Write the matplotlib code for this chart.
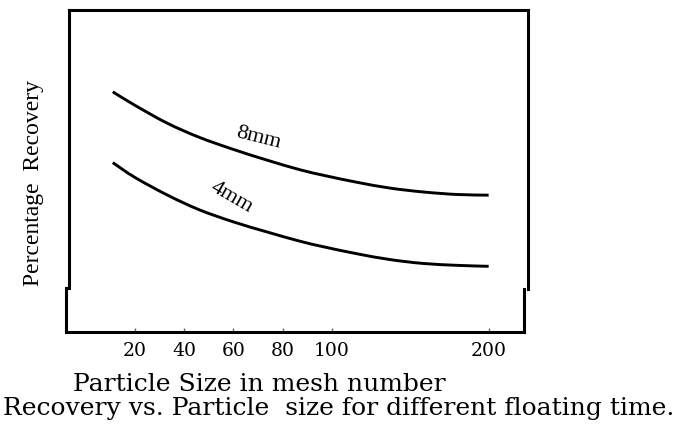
import numpy as np
import matplotlib
matplotlib.use("Agg")
import matplotlib.pyplot as plt
from matplotlib.lines import Line2D
from matplotlib.path import Path
from matplotlib.patches import PathPatch

# Mesh numbers at which each curve was read
mesh = [11, 20, 33, 46, 60, 74, 87, 97, 116, 137, 158, 180, 200]
# Percentage recovery (relative units, no scale printed on the axis)
rec_8mm = [74.6, 70.4, 64.9, 60.5, 56.7, 53.3, 50.4, 48.6, 46.5, 44.7, 43.5, 42.7, 42.5]
rec_4mm = [52.6, 48.0, 42.6, 38.0, 34.2, 31.0, 28.2, 26.4, 24.3, 22.5, 21.3, 20.7, 20.4]

tick_values = [20, 40, 60, 80, 100, 200]
tick_labels = ["20", "40", "60", "80", "100", "200"]

# Axis is linear up to 100 mesh, then compressed beyond it
RATIO = 0.637


def forward(m):
    m = np.asarray(m, dtype=float)
    return np.where(m <= 100, m, 100 + (m - 100) * RATIO)


def inverse(p):
    p = np.asarray(p, dtype=float)
    return np.where(p <= 100, p, 100 + (p - 100) / RATIO)


def smooth_path(xs, ys):
    """Catmull-Rom curve through the points, as cubic Bezier segments."""
    p = np.column_stack([xs, ys])
    n = len(p)
    verts = [p[0]]
    codes = [Path.MOVETO]
    for i in range(n - 1):
        p0 = p[i - 1] if i > 0 else p[i]
        p1, p2 = p[i], p[i + 1]
        p3 = p[i + 2] if i + 2 < n else p[i + 1]
        c1 = p1 + (p2 - p0) / 6.0
        c2 = p2 - (p3 - p1) / 6.0
        verts += [c1, c2, p2]
        codes += [Path.CURVE4] * 3
    return Path(np.array(verts), codes)


W, H = 675, 424
fig = plt.figure(figsize=(W / 100, H / 100), dpi=100)
L, R, T, B = 66, 525.5, 10, 332
ax = fig.add_axes([L / W, 1 - B / H, (R - L) / W, (B - T) / H])

ax.set_xscale("function", functions=(forward, inverse))
ax.set_xlim(-8, 223.5)
ax.set_ylim(0, 100)

# Curves drawn in scaled-position space (transData without the scale step)
pos_trans = ax.transLimits + ax.transAxes
for rec in (rec_8mm, rec_4mm):
    path = smooth_path(forward(mesh), rec)
    ax.add_patch(PathPatch(path, facecolor="none", edgecolor="black", lw=2.1,
                           capstyle="butt", transform=pos_trans))

ax.text(70, 60.2, "8mm", rotation=-14, ha="center", va="center",
        family="Liberation Serif", fontsize=16)
ax.text(59.4, 41.9, "4mm", rotation=-30, ha="center", va="center",
        family="Liberation Serif", fontsize=16)

ax.set_xticks(tick_values)
ax.set_xticklabels(tick_labels, family="DejaVu Serif", fontsize=13.5)
ax.set_yticks([])
ax.tick_params(axis="x", direction="in", length=3, width=1, color="#666666", pad=7)
ax.xaxis.set_minor_locator(matplotlib.ticker.NullLocator())

ax.set_xlabel("Particle Size in mesh number", family="DejaVu Serif", fontsize=18)
ax.xaxis.set_label_coords(0.421, -0.128)
ax.set_ylabel("Percentage  Recovery", family="Liberation Serif", fontsize=17)
ax.yaxis.set_label_coords(-0.048, 0.463)

# Frame drawn as separate segments (slight jog near the bottom of each side)
for s in ax.spines.values():
    s.set_visible(False)
aw, ah = R - L, B - T


def ax_x(px):
    return (px - L) / aw


def ax_y(py):
    return (B - py) / ah


frame = [
    ((68.5, 10), (527.7, 10)),
    ((68.5, 10), (68.5, 288)),
    ((65.7, 288), (65.7, 332)),
    ((527.7, 10), (527.7, 289)),
    ((524.3, 289), (524.3, 332)),
    ((65.7, 332), (524.3, 332)),
]
for (x0, y0), (x1, y1) in frame:
    ax.add_line(Line2D([ax_x(x0), ax_x(x1)], [ax_y(y0), ax_y(y1)],
                       transform=ax.transAxes, color="black", lw=2.2,
                       solid_capstyle="projecting", clip_on=False))

fig.text(339 / W, 1 - 409 / H,
         "Recovery vs. Particle  size for different floating time.",
         ha="center", va="center", family="DejaVu Serif", fontsize=18)

fig.savefig("out.png", dpi=100)
